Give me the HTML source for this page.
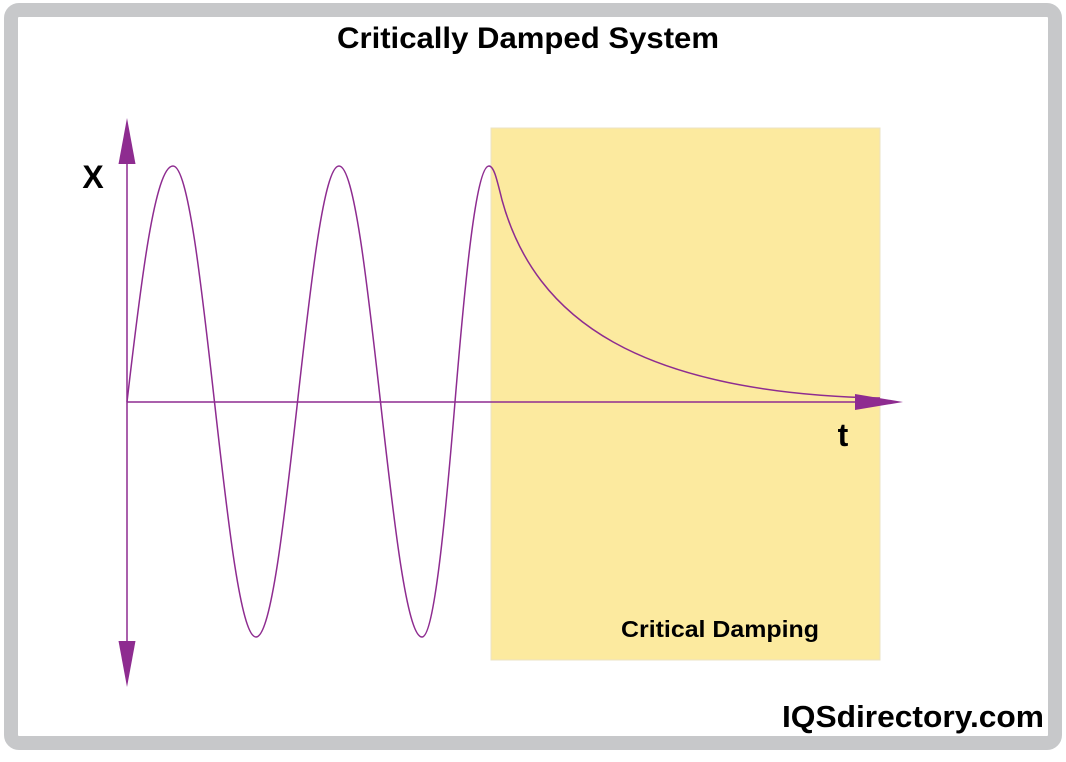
<!DOCTYPE html>
<html><head><meta charset="utf-8"><style>
html,body{margin:0;padding:0;background:#fff;}
body{width:1066px;height:757px;overflow:hidden;font-family:"Liberation Sans",Arial,sans-serif;}
</style></head><body>
<svg width="1066" height="757" viewBox="0 0 1066 757" xmlns="http://www.w3.org/2000/svg">
<rect x="0" y="0" width="1066" height="757" fill="#fff"/>
<rect x="11" y="10" width="1044" height="733" rx="8" fill="none" stroke="#c7c8ca" stroke-width="14"/>
<rect x="491" y="128" width="389" height="532" fill="#fcea9f" stroke="#ebe3c4" stroke-width="1"/>
<text x="337" y="48" textLength="382" lengthAdjust="spacingAndGlyphs" font-family="Liberation Sans, Arial, sans-serif" font-weight="bold" font-size="30" fill="#000">Critically Damped System</text>
<text x="93" y="188" text-anchor="middle" font-family="Liberation Sans, Arial, sans-serif" font-weight="bold" font-size="32" fill="#000">X</text>
<text x="843" y="446" text-anchor="middle" font-family="Liberation Sans, Arial, sans-serif" font-weight="bold" font-size="32" fill="#000">t</text>
<text x="621" y="637" textLength="198" lengthAdjust="spacingAndGlyphs" font-family="Liberation Sans, Arial, sans-serif" font-weight="bold" font-size="23" fill="#000">Critical Damping</text>
<text x="782" y="727" textLength="262" lengthAdjust="spacingAndGlyphs" font-family="Liberation Sans, Arial, sans-serif" font-weight="bold" font-size="31" fill="#000">IQSdirectory.com</text>
<g stroke="#8e2c90" fill="none" stroke-width="1.5">
<line x1="127" y1="160" x2="127" y2="645"/>
<line x1="127" y1="402" x2="860" y2="402"/>
<path d="M127,402 C141,281 155,166 173,166 C188,166 201,281 214.5,402 C228,523 241,637 256,637 C271,637 284,523 297.5,402 C311,281 324,166 339,166 C354,166 367,281 380.5,402 C394,523 407,637 422,637 C434,637 445,523 455,402 C465,281 476,166 489,166 C494,166 497,180 502,200 C535,320 640,393 880,398"/>
</g>
<g fill="#8e2c90">
<polygon points="127,118 118.5,164 135.5,164"/>
<polygon points="127,687 118.5,641 135.5,641"/>
<polygon points="903,402 855,394 855,410"/>
</g>
</svg>
</body></html>
